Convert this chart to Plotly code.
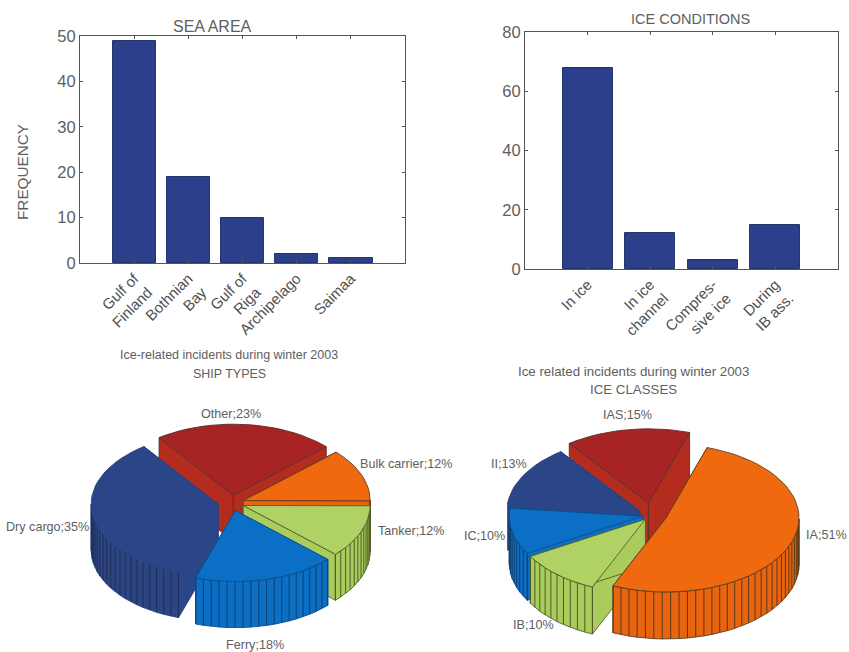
import math
import plotly.graph_objects as go

# ---- data ----
sea_areas = ["Gulf of<br>Finland", "Bothnian<br>Bay", "Gulf of<br>Riga", "Archipelago", "Saimaa"]
sea_freq = [49, 19, 10, 2, 1]
ice_conditions = ["In ice", "In ice<br>channel", "Compres-<br>sive ice", "During<br>IB ass."]
ice_freq = [68, 12, 3, 15]

ship_types = ["Bulk carrier", "Tanker", "Ferry", "Dry cargo", "Other"]
ship_share = [12, 12, 18, 35, 23]
ice_classes = ["IA", "IB", "IC", "II", "IAS"]
class_share = [51, 10, 10, 13, 15]

# ---- styles / layout ----
W, H = 849, 652
TXT = "#5e5e5e"
FONT = "Liberation Sans"
BAR = "#2b3f8a"

# top colour, wall colour, cut-face colour, outline colour, stripe colour
ORANGE = ("#f0690f", "#e8640f", "#e8640f", "#5c4020", "#5c3a18")
GREEN = ("#b0d163", "#a9cc5c", "#a9cc5c", "#55602c", "#4f5a28")
BLUE = ("#0b6fc6", "#0b6fc6", "#0b6fc6", "#0a4f8c", "#123f6c")
NAVY = ("#2b4688", "#2c4480", "#2b4688", "#2a4280", "#1f2f5c")
RED = ("#a82323", "#b32c1e", "#b32c1e", "#5a3028", "#5a3028")
PALETTE = {"Bulk carrier": ORANGE, "Tanker": GREEN, "Ferry": BLUE, "Dry cargo": NAVY, "Other": RED,
           "IA": ORANGE, "IB": GREEN, "IC": BLUE, "II": NAVY, "IAS": RED}
RATIO = 0.56
PIES = [
    dict(names=ship_types, shares=ship_share, cx=232, cy=503, rx=127, ry=71, depth=46,
         start=43.0, order=["Other", "Bulk carrier", "Dry cargo", "Tanker", "Ferry"],
         explode={"Bulk carrier": 12, "Tanker": 12, "Ferry": 14, "Dry cargo": 14, "Other": 14}),
    dict(names=ice_classes, shares=class_share, cx=652, cy=515, rx=133, ry=74, depth=47,
         start=72.0, order=["IAS", "II", "IC", "IB", "IA"],
         explode={"IA": 15, "IB": 10, "IC": 10, "II": 14, "IAS": 22}),
]
PIE_LABELS = {
    "Other": (231, 414, "center"), "Bulk carrier": (358, 464, "left"), "Tanker": (376, 531, "left"),
    "Dry cargo": (4, 527, "left"), "Ferry": (255, 645, "center"),
    "IAS": (627, 415, "center"), "II": (509, 464, "center"), "IC": (484, 536, "center"),
    "IB": (533, 625, "center"), "IA": (826, 535, "center"),
}

fig = go.Figure()

# ---- bars ----
fig.add_bar(x=list(range(1, 6)), y=sea_freq, width=0.8, marker=dict(color=BAR, line=dict(color="#26346e", width=1)),
            xaxis="x", yaxis="y", showlegend=False)
fig.add_bar(x=list(range(1, 5)), y=ice_freq, width=0.8, marker=dict(color=BAR, line=dict(color="#26346e", width=1)),
            xaxis="x2", yaxis="y2", showlegend=False)


def poly(xs, ys, fill, line, width=0.9):
    fig.add_scatter(x=xs, y=ys, mode="lines", fill="toself", fillcolor=fill,
                    line=dict(color=line, width=width), xaxis="x3", yaxis="y3",
                    showlegend=False, hoverinfo="skip")


def draw_pie(p):
    total = sum(p["shares"])
    theta = p["start"]
    spans = {}
    for name, share in zip(p["names"], p["shares"]):
        # slices run clockwise on the page
        sweep = share / total * 360
        spans[name] = (theta, theta - sweep, share)
        theta -= sweep
    rx, ry, depth = p["rx"], p["ry"], p["depth"]
    for name in p["order"]:
        a0, a1, share = spans[name]
        mid = math.radians((a0 + a1) / 2)
        e = p["explode"][name]
        tx = p["cx"] + e * math.cos(mid)
        ty = p["cy"] - e * RATIO * math.sin(mid)
        top, wall, cut, outline, stripe = PALETTE[name]
        n = max(int(share), 2)
        steps = [a0 + (a1 - a0) * i / n for i in range(n + 1)]
        px = [tx + rx * math.cos(math.radians(a)) for a in steps]
        py = [ty - ry * math.sin(math.radians(a)) for a in steps]
        # radial cut faces
        for i in (0, -1):
            poly([tx, px[i], px[i], tx, tx], [ty, py[i], py[i] + depth, ty + depth, ty], cut, outline)
        # outer curved wall, only the part that faces the viewer
        front = [i for i, a in enumerate(steps) if math.sin(math.radians(a)) <= 0.02]
        if front:
            fx = [px[i] for i in front]
            fy = [py[i] for i in front]
            poly(fx + fx[::-1] + fx[:1], fy + [v + depth for v in fy[::-1]] + fy[:1], wall, outline)
            sx, sy = [], []
            for x, y in zip(fx, fy):
                sx += [x, x, None]
                sy += [y, y + depth, None]
            fig.add_scatter(x=sx, y=sy, mode="lines", line=dict(color=stripe, width=1), xaxis="x3", yaxis="y3",
                            showlegend=False, hoverinfo="skip")
        # top face
        poly([tx] + px + [tx], [ty] + py + [ty], top, outline)


for pie in PIES:
    draw_pie(pie)

notes = []


def note(x, y, text, size=12.6, anchor="center", angle=0):
    notes.append(dict(x=x, y=y, xref="x3", yref="y3", text=text, showarrow=False, xanchor=anchor, yanchor="middle",
                      textangle=angle, font=dict(family=FONT, size=size, color=TXT)))


note(212, 26, "SEA AREA", 16)
note(690, 19, "ICE CONDITIONS", 14.5)
note(22, 172, "FREQUENCY", 15.3, angle=-90)
note(229, 355, "Ice-related incidents during winter 2003", 12.5)
note(229, 374, "SHIP TYPES", 12.5)
note(633, 371, "Ice related incidents during winter 2003", 13.3)
note(633, 389, "ICE CLASSES", 13.3)
for pie in PIES:
    for name, share in zip(pie["names"], pie["shares"]):
        lx, ly, anc = PIE_LABELS[name]
        note(lx, ly, f"{name};{share}%", 12.6, anc)

def px_dom(a, b, size):
    return [a / size, b / size]

def yd(top, bottom):
    return [1 - bottom / H, 1 - top / H]

axis_common = dict(showgrid=False, zeroline=False, showline=True, linecolor="#555555", linewidth=1, mirror="ticks",
                   ticks="inside", ticklen=3, tickcolor="#555555", automargin=False,
                   tickfont=dict(family=FONT, size=16.5, color=TXT))
x_common = dict(axis_common, tickangle=-45, tickfont=dict(family=FONT, size=15, color="#505050"))

fig.update_layout(
    width=W, height=H, autosize=False, margin=dict(l=0, r=0, t=0, b=0, pad=0),
    paper_bgcolor="white", plot_bgcolor="rgba(0,0,0,0)", annotations=notes, showlegend=False, bargap=0,
    xaxis=dict(x_common, domain=px_dom(80, 405, W), range=[0, 6], tickvals=list(range(1, 6)), ticktext=sea_areas, anchor="y"),
    yaxis=dict(axis_common, domain=yd(36, 263), range=[0, 50], tickvals=[0, 10, 20, 30, 40, 50], anchor="x"),
    xaxis2=dict(x_common, domain=px_dom(525, 838, W), range=[0, 5], tickvals=list(range(1, 5)), ticktext=ice_conditions, anchor="y2"),
    yaxis2=dict(axis_common, domain=yd(32, 269), range=[0, 80], tickvals=[0, 20, 40, 60, 80], anchor="x2"),
    xaxis3=dict(domain=[0, 1], range=[0, W], visible=False, anchor="y3", fixedrange=True, automargin=False),
    yaxis3=dict(domain=[0, 1], range=[H, 0], visible=False, anchor="x3", fixedrange=True, automargin=False),
)
fig.write_html("out.html", config=dict(displayModeBar=False),
               post_script="document.body.style.margin='0';document.documentElement.style.overflow='hidden';")
